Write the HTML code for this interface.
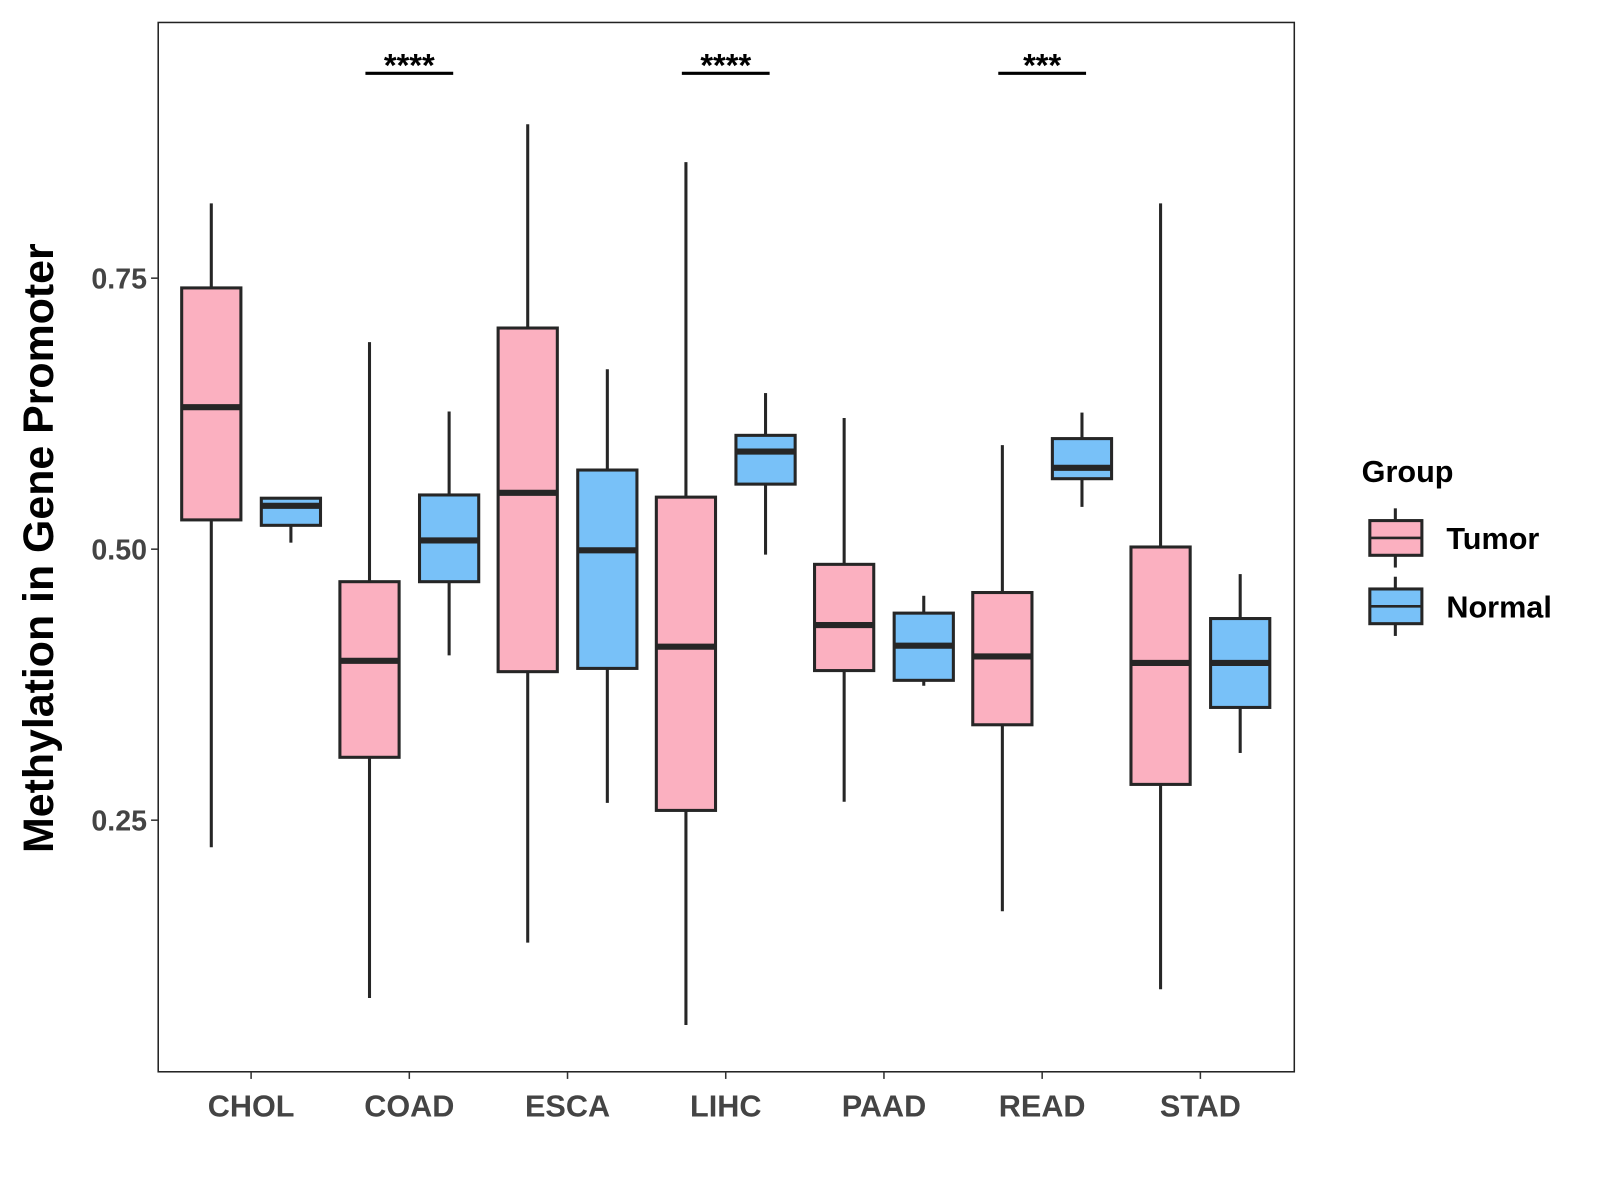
<!DOCTYPE html>
<html><head><meta charset="utf-8"><style>
html,body{margin:0;padding:0;background:#fff;width:1600px;height:1200px;overflow:hidden}
text{font-family:"Liberation Sans",Arial,sans-serif;font-weight:bold}
</style></head><body>
<svg id="chart" width="1600" height="1200" viewBox="0 0 1567.5 1175.6" xmlns="http://www.w3.org/2000/svg">
<rect x="0" y="0" width="1568" height="1176" fill="#fff"/>
<g id="plot"></g>
</svg>
<script>
const categories=["CHOL","COAD","ESCA","LIHC","PAAD","READ","STAD"];
const tumorLow=[0.225,0.086,0.137,0.061,0.267,0.166,0.094];
const tumorQ1=[0.527,0.308,0.387,0.259,0.388,0.338,0.283];
const tumorMed=[0.631,0.397,0.552,0.410,0.430,0.401,0.395];
const tumorQ3=[0.741,0.470,0.704,0.548,0.486,0.460,0.502];
const tumorHigh=[0.819,0.691,0.892,0.857,0.621,0.596,0.819];
const normalLow=[0.506,0.402,0.266,0.495,0.374,0.539,0.312];
const normalQ1=[0.522,0.470,0.390,0.560,0.379,0.565,0.354];
const normalMed=[0.540,0.508,0.499,0.590,0.411,0.575,0.395];
const normalQ3=[0.547,0.550,0.573,0.605,0.441,0.602,0.436];
const normalHigh=[0.547,0.627,0.666,0.644,0.457,0.626,0.477];
const yTicks=[0.25,0.50,0.75];
const yTickLabels=["0.25","0.50","0.75"];
const sigCategories=["COAD","LIHC","READ"];
const sigLabels=["****","****","***"];
const sigLevel=0.939;

const NS="http://www.w3.org/2000/svg";
const g=document.getElementById('plot');
const L=155,R=1268,T=22,B=1050;
function y(v){return 538-(v-0.5)*1062;}
function x(i){return 246+i*155;}
function mk(tag,attrs,parent){const e=document.createElementNS(NS,tag);for(const k in attrs)e.setAttribute(k,attrs[k]);(parent||g).appendChild(e);return e;}

const border=mk('rect',{x:L,y:T,width:R-L,height:B-T,fill:'none',stroke:'#222','stroke-width':1.5});



yTicks.forEach((v,i)=>{
  const t=mk('line',{x1:L-7,x2:L,y1:y(v),y2:y(v),stroke:'#333','stroke-width':1.5});
  
  
  const lb=mk('text',{x:L-11,y:y(v)+10,'text-anchor':'end','font-size':28,fill:'#444'});
  lb.textContent=yTickLabels[i];
  
  
});
categories.forEach((c,i)=>{
  const t=mk('line',{x1:x(i),x2:x(i),y1:B,y2:B+7,stroke:'#333','stroke-width':1.5});
  
  
  const lb=mk('text',{x:x(i),y:B+44,'text-anchor':'middle','font-size':30,fill:'#444'});
  lb.textContent=c;
  
  
});
const yt=mk('text',{x:0,y:0,'text-anchor':'middle','font-size':42,fill:'#000',transform:'translate(52,537) rotate(-90)'});
yt.textContent='Methylation in Gene Promoter';



function box(cx,lo,q1,md,q3,hi,fill,name){
  const grp=mk('g',{});
  
  
  const w=29;
  mk('line',{x1:cx,x2:cx,y1:y(hi),y2:y(q3),stroke:'#262626','stroke-width':3},grp);
  mk('line',{x1:cx,x2:cx,y1:y(q1),y2:y(lo),stroke:'#262626','stroke-width':3},grp);
  mk('rect',{x:cx-w,y:y(q3),width:2*w,height:y(q1)-y(q3),fill:fill,stroke:'#262626','stroke-width':3},grp);
  mk('line',{x1:cx-w,x2:cx+w,y1:y(md),y2:y(md),stroke:'#262626','stroke-width':6},grp);
}
categories.forEach((c,i)=>{
  box(x(i)-39,tumorLow[i],tumorQ1[i],tumorMed[i],tumorQ3[i],tumorHigh[i],'#fbb0c0','box-tumor-'+c.toLowerCase());
  box(x(i)+39,normalLow[i],normalQ1[i],normalMed[i],normalQ3[i],normalHigh[i],'#78c1f8','box-normal-'+c.toLowerCase());
});
sigCategories.forEach((c,k)=>{
  const i=categories.indexOf(c);
  const ln=mk('line',{x1:x(i)-43,x2:x(i)+43,y1:y(sigLevel),y2:y(sigLevel),stroke:'#000','stroke-width':3});
  
  
  const t=mk('text',{x:x(i),y:y(sigLevel)+3,'text-anchor':'middle','font-size':32,fill:'#000'});
  t.textContent=sigLabels[k];
  
  
});
const lg=mk('g',{});


const lt=mk('text',{x:1334,y:472,'font-size':30,fill:'#000'},lg);
lt.textContent='Group';
[['Tumor','#fbb0c0',527],['Normal','#78c1f8',594]].forEach(([nm,col,cy])=>{
  const e=mk('g',{},lg);
  
  
  mk('line',{x1:1367,x2:1367,y1:cy-29,y2:cy+29,stroke:'#262626','stroke-width':3},e);
  mk('rect',{x:1342,y:cy-17,width:51,height:34,fill:col,stroke:'#262626','stroke-width':3},e);
  mk('line',{x1:1342,x2:1393,y1:cy,y2:cy,stroke:'#262626','stroke-width':2.5},e);
  const tx=mk('text',{x:1417,y:cy+11,'font-size':30,fill:'#000'},e);
  tx.textContent=nm;
});
</script>
</body></html>
